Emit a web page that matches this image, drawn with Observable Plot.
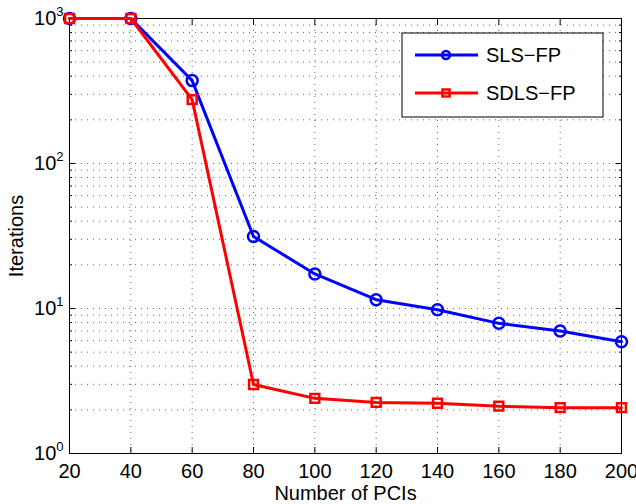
<!DOCTYPE html>
<html>
<head>
<meta charset="utf-8">
<script src="https://cdn.jsdelivr.net/npm/d3@7"></script>
<script src="https://cdn.jsdelivr.net/npm/@observablehq/plot@0.6"></script>
<style>
  html, body { margin: 0; padding: 0; background: #fff; }
</style>
</head>
<body>
<div id="chart"></div>
<script>
// ---- data ----
const pcis = [20, 40, 60, 80, 100, 120, 140, 160, 180, 200];
const slsFP = [1000, 1000, 373, 31.4, 17.3, 11.5, 9.8, 7.9, 7.0, 5.9];
const sdlsFP = [1000, 1000, 276, 2.99, 2.40, 2.25, 2.22, 2.12, 2.07, 2.07];
const seriesNames = ["SLS\u2212FP", "SDLS\u2212FP"];
const xTicks = [20, 40, 60, 80, 100, 120, 140, 160, 180, 200];
const yMajor = [1, 10, 100, 1000];
const yMinor = [2,3,4,5,6,7,8,9,20,30,40,50,60,70,80,90,200,300,400,500,600,700,800,900];

const sls = pcis.map((x, i) => ({x, y: slsFP[i]}));
const sdls = pcis.map((x, i) => ({x, y: sdlsFP[i]}));

const FONT = "'Liberation Sans', Arial, Helvetica, sans-serif";
const gridStyle = {stroke: "#000", strokeOpacity: 0.6, strokeDasharray: "1,5", strokeWidth: 1};

const chart = Plot.plot({
  width: 636,
  height: 504,
  marginLeft: 69,
  marginRight: 15,
  marginTop: 18,
  marginBottom: 51,
  style: {fontFamily: FONT, fontSize: "20px", background: "#fff", color: "#000", overflow: "visible"},
  x: {type: "linear", domain: [20, 200]},
  y: {type: "log", domain: [1, 1000]},
  marks: [
    Plot.gridX(xTicks, gridStyle),
    Plot.gridY(yMajor.concat(yMinor), gridStyle),
    // inward tick marks
    Plot.axisX(xTicks, {anchor: "bottom", tickSize: -6, tickFormat: () => "", label: null}),
    Plot.axisX(xTicks, {anchor: "top", tickSize: -6, tickFormat: () => "", label: null}),
    Plot.axisY(yMajor, {anchor: "left", tickSize: -6, tickFormat: () => "", label: null}),
    Plot.axisY(yMajor, {anchor: "right", tickSize: -6, tickFormat: () => "", label: null}),
    Plot.axisY(yMinor, {anchor: "left", tickSize: -3, tickFormat: () => "", label: null}),
    Plot.axisY(yMinor, {anchor: "right", tickSize: -3, tickFormat: () => "", label: null}),
    // labels
    Plot.axisX(xTicks, {anchor: "bottom", tickSize: 0, tickPadding: 10, tickFormat: d => String(d),
      fontSize: 20, label: "Number of PCIs", labelAnchor: "center", labelArrow: "none", labelOffset: 46}),
    Plot.axisY(yMajor, {anchor: "left", tickSize: 0, tickPadding: 6,
      tickFormat: d => "10^" + Math.round(Math.log10(d)),
      fontSize: 20, label: "Iterations", labelAnchor: "center", labelArrow: "none", labelOffset: 61}),
    Plot.frame({stroke: "#000", strokeWidth: 1}),
    // series
    Plot.line(sls, {x: "x", y: "y", stroke: "#0000ff", strokeWidth: 3}),
    Plot.dot(sls, {x: "x", y: "y", stroke: "#0000ff", fill: "none", r: 5.5, strokeWidth: 2.5, symbol: "circle"}),
    Plot.line(sdls, {x: "x", y: "y", stroke: "#ff0000", strokeWidth: 3}),
    Plot.dot(sdls, {x: "x", y: "y", stroke: "#ff0000", fill: "none", r: 5, strokeWidth: 2.5, symbol: "square"})
  ]
});

// superscript exponents on y tick labels
d3.select(chart).selectAll('[aria-label="y-axis tick label"] text').each(function() {
  const t = d3.select(this);
  const s = t.text();
  const m = s.match(/^10\^(-?\d+)$/);
  if (!m) return;
  t.text(null);
  t.append("tspan").text("10");
  t.append("tspan").attr("dy", "-9").attr("font-size", "13px").text(m[1]);
});

// legend
const svg = d3.select(chart);
const lg = svg.append("g").attr("font-family", FONT).attr("font-size", "20px").attr("text-anchor", "start");
lg.append("rect").attr("x", 402).attr("y", 33).attr("width", 201).attr("height", 84)
  .attr("fill", "#fff").attr("stroke", "#000").attr("stroke-width", 1);
const legendItems = [
  {name: seriesNames[0], color: "#0000ff", symbol: d3.symbolCircle, r: 4},
  {name: seriesNames[1], color: "#ff0000", symbol: d3.symbolSquare, r: 4}
];
legendItems.forEach((it, i) => {
  const y = 55 + i * 38;
  lg.append("line").attr("x1", 415).attr("x2", 478).attr("y1", y).attr("y2", y)
    .attr("stroke", it.color).attr("stroke-width", 3);
  lg.append("path").attr("transform", `translate(446,${y})`)
    .attr("d", d3.symbol(it.symbol, Math.PI * it.r * it.r)())
    .attr("fill", "none").attr("stroke", it.color).attr("stroke-width", 2.5);
  lg.append("text").attr("x", 486).attr("y", y).attr("dy", "0.35em").attr("fill", "#000")
    .attr("text-anchor", "start").text(it.name);
});

document.getElementById("chart").appendChild(chart);
</script>
</body>
</html>
